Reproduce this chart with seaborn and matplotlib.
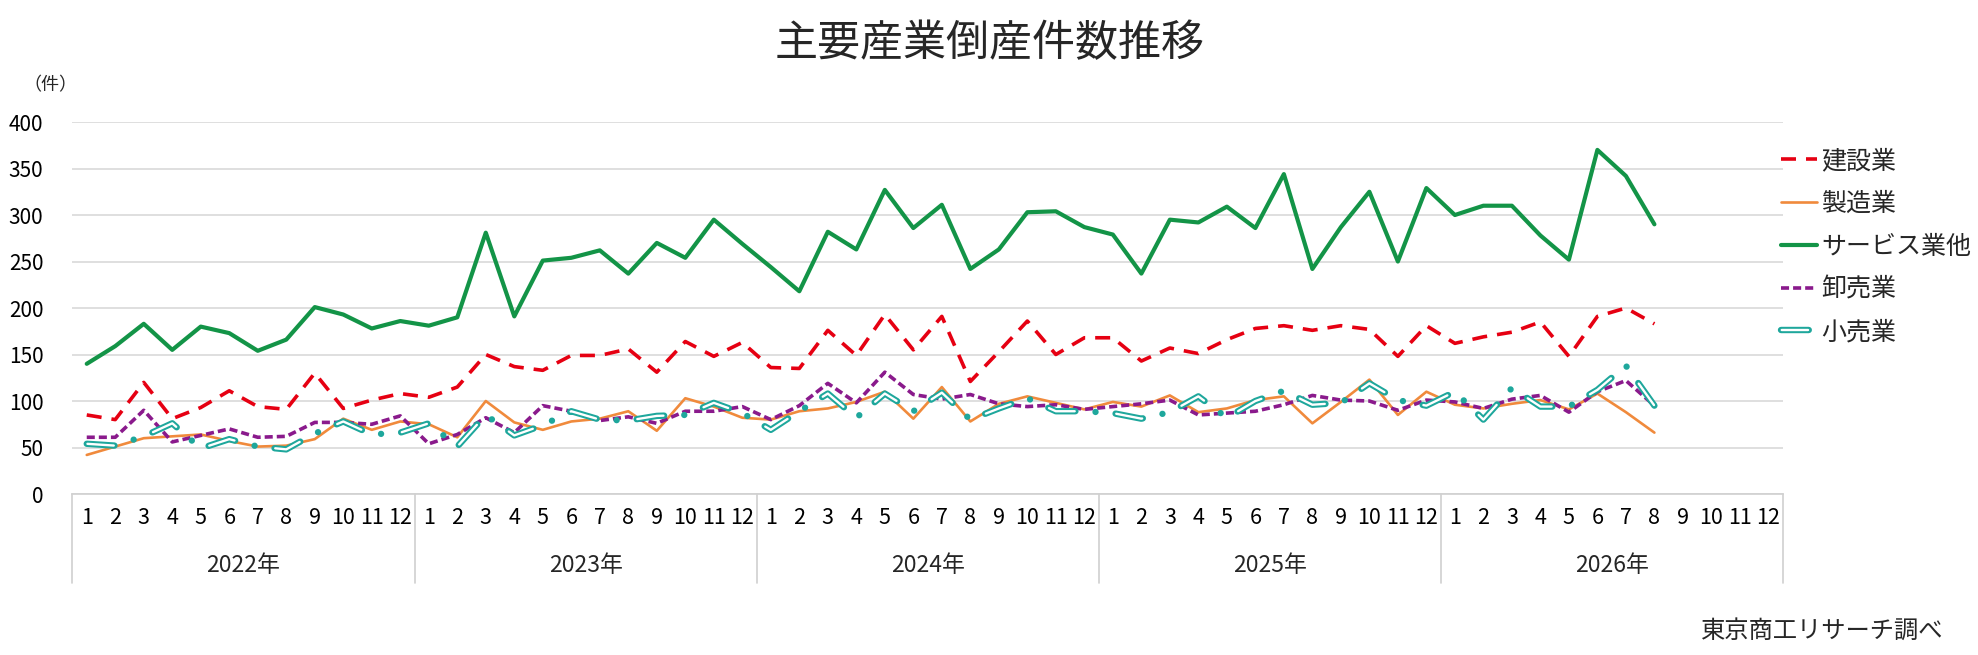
import matplotlib
matplotlib.use("Agg")
import matplotlib.pyplot as plt
import seaborn as sns
import pandas as pd

# 2022-01 .. 2026-08 (monthly)
years = ["2022年", "2023年", "2024年", "2025年", "2026年"]
months = [str(m) for m in range(1, 13)]

construction = [85, 80, 120, 81, 93, 111, 94, 91, 130, 92, 101, 108,
                104, 115, 150, 137, 133, 149, 149, 156, 131, 164, 148, 163,
                136, 135, 176, 149, 193, 155, 191, 121, 153, 186, 150, 168,
                168, 143, 157, 151, 166, 178, 181, 176, 181, 177, 148, 181,
                162, 169, 174, 185, 148, 191, 200, 183]
manufacturing = [42, 51, 60, 62, 64, 57, 51, 52, 59, 81, 69, 78,
                 75, 61, 100, 77, 69, 78, 81, 89, 68, 103, 94, 82,
                 80, 89, 92, 99, 110, 81, 115, 78, 97, 105, 98, 91,
                 99, 94, 106, 88, 92, 101, 105, 76, 99, 123, 85, 110,
                 96, 92, 97, 101, 91, 108, 88, 66]
services = [140, 159, 183, 155, 180, 173, 154, 166, 201, 193, 178, 186,
            181, 190, 281, 191, 251, 254, 262, 237, 270, 254, 295, 269,
            244, 218, 282, 263, 327, 286, 311, 242, 263, 303, 304, 287,
            279, 237, 295, 292, 309, 286, 344, 242, 287, 325, 250, 329,
            300, 310, 310, 278, 252, 370, 342, 290]
wholesale = [61, 61, 90, 56, 63, 70, 61, 62, 77, 77, 75, 84,
             54, 64, 82, 66, 95, 89, 79, 83, 76, 89, 89, 94,
             80, 95, 119, 98, 131, 107, 102, 107, 97, 94, 96, 91,
             94, 97, 101, 85, 87, 89, 96, 106, 101, 100, 90, 101,
             99, 92, 102, 106, 88, 110, 122, 95]
retail = [54, 52, 62, 76, 49, 59, 51, 48, 65, 78, 64, 66,
          76, 51, 85, 63, 74, 89, 80, 79, 84, 85, 98, 87,
          69, 89, 108, 82, 108, 89, 109, 80, 92, 103, 89, 89,
          87, 81, 88, 105, 82, 100, 111, 96, 98, 119, 101, 95,
          110, 80, 114, 94, 94, 112, 138, 95]

df = pd.DataFrame({
    "idx": range(len(services)),
    "建設業": construction,
    "製造業": manufacturing,
    "サービス業他": services,
    "卸売業": wholesale,
    "小売業": retail,
})

sns.set_style("white")
plt.rcParams["font.family"] = ["Noto Sans CJK JP", "DejaVu Sans"]
plt.rcParams["lines.scale_dashes"] = False

fig = plt.figure(figsize=(19.78, 6.55), dpi=100)
ax = fig.add_axes([0.03665, 0.2458, 0.8646, 0.5679])

red = "#e60012"
orange = "#f08a3c"
green = "#139447"
purple = "#8a1a8c"
teal = "#1ea79c"

sns.lineplot(data=df, x="idx", y="建設業", ax=ax, color=red, linewidth=2.6,
             linestyle=(0, (10.8, 7.2)), label="建設業")
sns.lineplot(data=df, x="idx", y="製造業", ax=ax, color=orange, linewidth=1.9,
             label="製造業")
sns.lineplot(data=df, x="idx", y="サービス業他", ax=ax, color=green, linewidth=3.0,
             label="サービス業他")
sns.lineplot(data=df, x="idx", y="卸売業", ax=ax, color=purple, linewidth=2.6,
             linestyle=(0, (5.8, 2.9)), label="卸売業")
# double (outline) dash-dot line for retail
sns.lineplot(data=df, x="idx", y="小売業", ax=ax, color=teal, linewidth=4.6,
             linestyle=(0, (20, 14.5, 0.01, 14.49)), dash_capstyle="round",
             label="小売業")
sns.lineplot(data=df, x="idx", y="小売業", ax=ax, color="white", linewidth=1.7,
             linestyle=(48.5, (19, 30)), dash_capstyle="round", label="_nolegend_")

lines = ax.get_lines()
handles = [lines[0], lines[1], lines[2], lines[3], (lines[4], lines[5])]
labels = ["建設業", "製造業", "サービス業他", "卸売業", "小売業"]
ax.legend(handles, labels, loc="upper left", bbox_to_anchor=(0.9005, 0.774),
          bbox_transform=fig.transFigure, frameon=False, fontsize=18,
          handlelength=1.45, handletextpad=0.15, labelspacing=0.67,
          borderpad=0, borderaxespad=0)

n_cat = len(years) * len(months)
ax.set_xlim(-0.5, n_cat - 0.5)
ax.set_ylim(0, 400)
ax.set_yticks(range(0, 401, 50))
ax.set_xticks(range(n_cat))
ax.set_xticklabels(months * len(years))
ax.set_xlabel("")
ax.set_ylabel("")
ax.yaxis.grid(True, color="#d9d9d9", linewidth=1.2)
ax.xaxis.grid(False)
for s in ["left", "top", "right"]:
    ax.spines[s].set_visible(False)
ax.spines["bottom"].set_color("#d0d0d0")
ax.spines["bottom"].set_linewidth(1.2)
ax.tick_params(axis="y", length=0, pad=21, labelsize=15, labelcolor="black")
ax.tick_params(axis="x", length=0, pad=9, labelsize=15.5, labelcolor="black")

# year groups under the month labels
trans = ax.get_xaxis_transform()
for k, yr in enumerate(years):
    ax.text(k * 12 + 5.5, -0.1935, yr, transform=trans, ha="center", va="center",
            fontsize=16.5)
for k in range(len(years) + 1):
    ax.plot([k * 12 - 0.5, k * 12 - 0.5], [0, -0.24], transform=trans,
            color="#d0d0d0", linewidth=1.2, clip_on=False)

fig.text(0.5005, 0.933, "主要産業倒産件数推移", ha="center", va="center", fontsize=31)
fig.text(0.0255, 0.870, "（件）", ha="center", va="center", fontsize=13)
fig.text(0.9823, 0.0366, "東京商工リサーチ調べ", ha="right", va="center", fontsize=17.5)

fig.savefig("out.png", dpi=100)
